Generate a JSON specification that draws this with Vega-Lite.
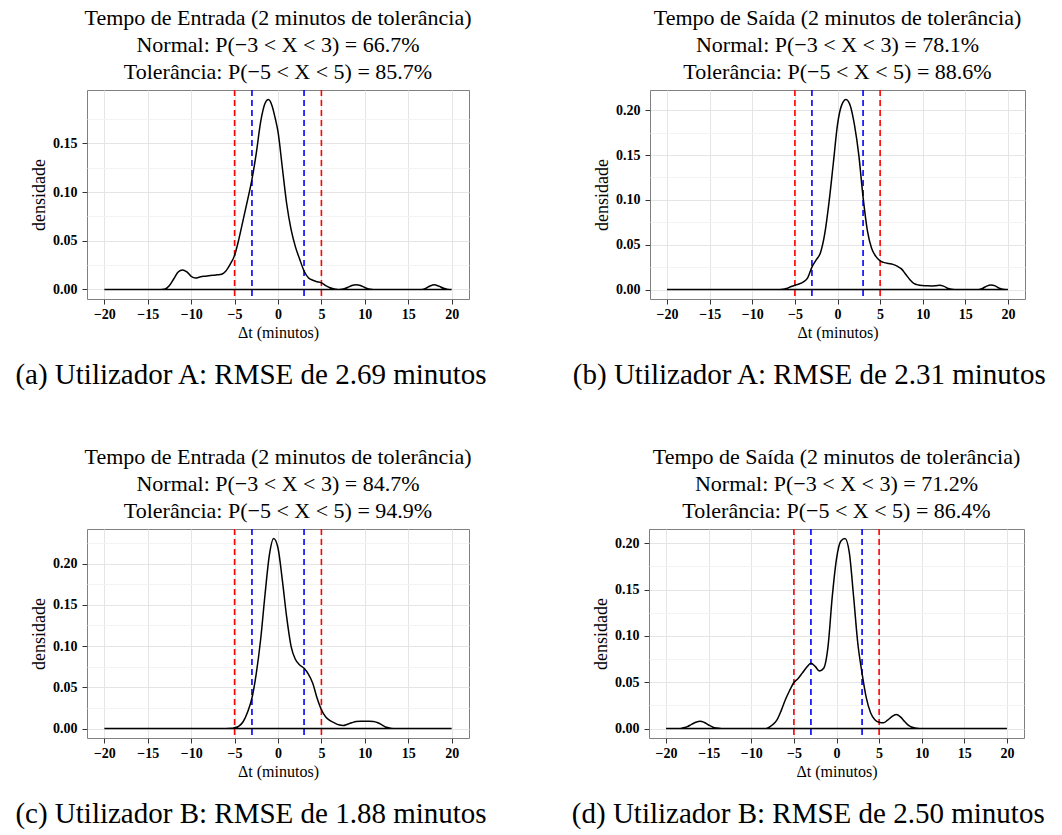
{
  "$schema": "https://vega.github.io/schema/vega-lite/v6.json",
  "padding": {"left": 14, "top": 6, "right": 5, "bottom": 5},
  "background": "white",
  "config": {
    "font": "Liberation Serif",
    "view": {"stroke": "#7F7F7F", "strokeWidth": 1},
    "title": {"font": "Liberation Serif", "fontSize": 22, "fontWeight": "normal", "lineHeight": 27, "anchor": "middle", "frame": "group", "offset": 5, "color": "black"},
    "axis": {
      "labelFont": "Liberation Serif", "labelFontSize": 14, "labelColor": "black", "labelFontWeight": "bold",
      "titleFont": "Liberation Serif", "titleFontWeight": "normal", "titleColor": "black",
      "domain": false, "tickColor": "#333333", "tickSize": 5, "labelOverlap": false, "labelBound": false, "labelFlush": false
    }
  },
  "datasets": {
    "a": [
      {"x": -20, "y": 0}, {"x": -13.5, "y": 0}, {"x": -13, "y": 0.0005}, {"x": -12.5, "y": 0.004}, {"x": -12, "y": 0.011}, {"x": -11.5, "y": 0.018}, {"x": -11, "y": 0.0201}, {"x": -10.5, "y": 0.018}, {"x": -10, "y": 0.0135}, {"x": -9.5, "y": 0.0118}, {"x": -9, "y": 0.0128}, {"x": -8.5, "y": 0.0135}, {"x": -8, "y": 0.014}, {"x": -7.5, "y": 0.0145}, {"x": -7, "y": 0.015}, {"x": -6.5, "y": 0.0157}, {"x": -6, "y": 0.019}, {"x": -5.5, "y": 0.026}, {"x": -5, "y": 0.035}, {"x": -4.5, "y": 0.052}, {"x": -4, "y": 0.072}, {"x": -3.5, "y": 0.092}, {"x": -3, "y": 0.113}, {"x": -2.5, "y": 0.14}, {"x": -2, "y": 0.172}, {"x": -1.5, "y": 0.191}, {"x": -1.1, "y": 0.195}, {"x": -0.7, "y": 0.189}, {"x": -0.3, "y": 0.175}, {"x": 0, "y": 0.162}, {"x": 0.5, "y": 0.125}, {"x": 1, "y": 0.088}, {"x": 1.5, "y": 0.062}, {"x": 2, "y": 0.044}, {"x": 2.5, "y": 0.031}, {"x": 3, "y": 0.019}, {"x": 3.5, "y": 0.012}, {"x": 4, "y": 0.0095}, {"x": 4.5, "y": 0.008}, {"x": 5, "y": 0.0068}, {"x": 5.5, "y": 0.004}, {"x": 6, "y": 0.0018}, {"x": 6.5, "y": 0.0004}, {"x": 7, "y": 0}, {"x": 7.5, "y": 0.0005}, {"x": 8, "y": 0.002}, {"x": 8.5, "y": 0.004}, {"x": 9, "y": 0.0048}, {"x": 9.5, "y": 0.004}, {"x": 10, "y": 0.002}, {"x": 10.5, "y": 0.0004}, {"x": 11, "y": 0}, {"x": 16.5, "y": 0}, {"x": 17, "y": 0.001}, {"x": 17.5, "y": 0.0035}, {"x": 18, "y": 0.0048}, {"x": 18.5, "y": 0.0035}, {"x": 19, "y": 0.0015}, {"x": 19.5, "y": 0.0003}, {"x": 20, "y": 0}
    ],
    "b": [
      {"x": -20, "y": 0}, {"x": -7, "y": 0}, {"x": -6.5, "y": 0.0003}, {"x": -6, "y": 0.0012}, {"x": -5.5, "y": 0.003}, {"x": -5, "y": 0.0048}, {"x": -4.5, "y": 0.0062}, {"x": -4, "y": 0.0085}, {"x": -3.5, "y": 0.013}, {"x": -3, "y": 0.025}, {"x": -2.5, "y": 0.033}, {"x": -2, "y": 0.041}, {"x": -1.5, "y": 0.062}, {"x": -1, "y": 0.097}, {"x": -0.5, "y": 0.14}, {"x": 0, "y": 0.184}, {"x": 0.5, "y": 0.206}, {"x": 1, "y": 0.212}, {"x": 1.5, "y": 0.205}, {"x": 2, "y": 0.183}, {"x": 2.5, "y": 0.15}, {"x": 3, "y": 0.103}, {"x": 3.5, "y": 0.066}, {"x": 4, "y": 0.046}, {"x": 4.5, "y": 0.037}, {"x": 5, "y": 0.032}, {"x": 5.5, "y": 0.03}, {"x": 6, "y": 0.029}, {"x": 6.5, "y": 0.028}, {"x": 7, "y": 0.026}, {"x": 7.5, "y": 0.023}, {"x": 8, "y": 0.017}, {"x": 8.5, "y": 0.011}, {"x": 9, "y": 0.0065}, {"x": 9.5, "y": 0.005}, {"x": 10, "y": 0.0045}, {"x": 10.5, "y": 0.0042}, {"x": 11, "y": 0.004}, {"x": 11.5, "y": 0.0043}, {"x": 12, "y": 0.0048}, {"x": 12.5, "y": 0.0035}, {"x": 13, "y": 0.0012}, {"x": 13.5, "y": 0.0002}, {"x": 14, "y": 0}, {"x": 16.5, "y": 0}, {"x": 17, "y": 0.0012}, {"x": 17.5, "y": 0.0038}, {"x": 18, "y": 0.005}, {"x": 18.5, "y": 0.004}, {"x": 19, "y": 0.0015}, {"x": 19.5, "y": 0.0003}, {"x": 20, "y": 0}
    ],
    "c": [
      {"x": -20, "y": 0}, {"x": -6, "y": 0}, {"x": -5.5, "y": 0.0002}, {"x": -5, "y": 0.001}, {"x": -4.5, "y": 0.003}, {"x": -4, "y": 0.0085}, {"x": -3.5, "y": 0.02}, {"x": -3, "y": 0.037}, {"x": -2.5, "y": 0.067}, {"x": -2, "y": 0.108}, {"x": -1.5, "y": 0.162}, {"x": -1, "y": 0.21}, {"x": -0.5, "y": 0.2305}, {"x": 0, "y": 0.219}, {"x": 0.5, "y": 0.18}, {"x": 1, "y": 0.135}, {"x": 1.5, "y": 0.1}, {"x": 2, "y": 0.084}, {"x": 2.5, "y": 0.077}, {"x": 3, "y": 0.073}, {"x": 3.5, "y": 0.066}, {"x": 4, "y": 0.055}, {"x": 4.5, "y": 0.037}, {"x": 5, "y": 0.0228}, {"x": 5.5, "y": 0.014}, {"x": 6, "y": 0.0095}, {"x": 6.5, "y": 0.0068}, {"x": 7, "y": 0.0045}, {"x": 7.5, "y": 0.0036}, {"x": 8, "y": 0.0052}, {"x": 8.5, "y": 0.007}, {"x": 9, "y": 0.0085}, {"x": 9.5, "y": 0.0088}, {"x": 10, "y": 0.0088}, {"x": 10.5, "y": 0.0088}, {"x": 11, "y": 0.0086}, {"x": 11.5, "y": 0.007}, {"x": 12, "y": 0.0042}, {"x": 12.5, "y": 0.0015}, {"x": 13, "y": 0.0003}, {"x": 13.5, "y": 0}, {"x": 20, "y": 0}
    ],
    "d": [
      {"x": -20, "y": 0}, {"x": -18.5, "y": 0.0001}, {"x": -18, "y": 0.0008}, {"x": -17.5, "y": 0.002}, {"x": -17, "y": 0.0045}, {"x": -16.5, "y": 0.0068}, {"x": -16, "y": 0.0079}, {"x": -15.5, "y": 0.0065}, {"x": -15, "y": 0.0038}, {"x": -14.5, "y": 0.0015}, {"x": -14, "y": 0.0005}, {"x": -13.5, "y": 0}, {"x": -8.5, "y": 0}, {"x": -8, "y": 0.001}, {"x": -7.5, "y": 0.004}, {"x": -7, "y": 0.009}, {"x": -6.5, "y": 0.019}, {"x": -6, "y": 0.031}, {"x": -5.5, "y": 0.041}, {"x": -5, "y": 0.0496}, {"x": -4.5, "y": 0.054}, {"x": -4, "y": 0.06}, {"x": -3.5, "y": 0.066}, {"x": -3, "y": 0.0704}, {"x": -2.5, "y": 0.067}, {"x": -2, "y": 0.062}, {"x": -1.5, "y": 0.065}, {"x": -1, "y": 0.088}, {"x": -0.5, "y": 0.142}, {"x": 0, "y": 0.183}, {"x": 0.5, "y": 0.202}, {"x": 1, "y": 0.205}, {"x": 1.5, "y": 0.19}, {"x": 2, "y": 0.143}, {"x": 2.5, "y": 0.092}, {"x": 3, "y": 0.0596}, {"x": 3.5, "y": 0.033}, {"x": 4, "y": 0.017}, {"x": 4.5, "y": 0.0095}, {"x": 5, "y": 0.0068}, {"x": 5.5, "y": 0.0062}, {"x": 6, "y": 0.009}, {"x": 6.5, "y": 0.0128}, {"x": 7, "y": 0.015}, {"x": 7.5, "y": 0.0125}, {"x": 8, "y": 0.0075}, {"x": 8.5, "y": 0.003}, {"x": 9, "y": 0.001}, {"x": 9.5, "y": 0.0002}, {"x": 10, "y": 0}, {"x": 20, "y": 0}
    ],
    "vlines": [
      {"x": -5, "c": "red"}, {"x": 5, "c": "red"}, {"x": -3, "c": "blue"}, {"x": 3, "c": "blue"}
    ]
  },
  "spacing": 55,
  "vconcat": [
    {
      "spacing": 84,
      "hconcat": [
        {
          "title": {"text": "(a) Utilizador A: RMSE de 2.69 minutos", "orient": "bottom", "anchor": "middle", "frame": "bounds", "fontSize": 29, "fontWeight": "normal", "offset": 20, "lineHeight": 30},
          "vconcat": [
            {
              "width": 382, "height": 209,
              "title": {"text": ["Tempo de Entrada (2 minutos de tolerância)", "Normal: P(−3 < X < 3) = 66.7%", "Tolerância: P(−5 < X < 5) = 85.7%"]},
              "layer": [
                {"data": {"name": "vlines"}, "mark": {"type": "rule", "strokeDash": [6, 4], "strokeWidth": 1.6}, "encoding": {"x": {"field": "x", "type": "quantitative", "scale": {"domain": [-22, 22], "nice": false, "zero": false}}, "color": {"field": "c", "type": "nominal", "scale": {"domain": ["red", "blue"], "range": ["#FF0000", "#0000FF"]}, "legend": null}}},
                {"data": {"name": "a"}, "mark": {"type": "area", "fillOpacity": 0, "stroke": "black", "strokeWidth": 1.5, "interpolate": "monotone"},
                  "encoding": {
                    "x": {"field": "x", "type": "quantitative", "scale": {"domain": [-22, 22], "nice": false, "zero": false}, "axis": {"title": "Δt (minutos)", "titleFontSize": 16, "titlePadding": 3, "labelPadding": 3, "format": "d", "values": [-20, -17.5, -15, -12.5, -10, -7.5, -5, -2.5, 0, 2.5, 5, 7.5, 10, 12.5, 15, 17.5, 20], "labelExpr": "datum.value % 5 === 0 ? datum.label : ''", "tickOpacity": {"condition": {"test": "datum.value % 5 === 0", "value": 1}, "value": 0}, "gridColor": {"condition": {"test": "datum.value % 5 === 0", "value": "#E5E5E5"}, "value": "#F3F3F3"}}},
                    "y": {"field": "y", "type": "quantitative", "scale": {"domain": [-0.0098, 0.2048], "nice": false, "zero": false}, "axis": {"title": "densidade", "titleFontSize": 18, "titlePadding": 4, "labelPadding": 5, "format": ".2f", "values": [0, 0.025, 0.05, 0.075, 0.1, 0.125, 0.15, 0.175], "labelExpr": "round(datum.value * 1000) % 50 === 0 ? datum.label : ''", "tickOpacity": {"condition": {"test": "round(datum.value * 1000) % 50 === 0", "value": 1}, "value": 0}, "gridColor": {"condition": {"test": "round(datum.value * 1000) % 50 === 0", "value": "#E5E5E5"}, "value": "#F3F3F3"}}}
                  }
                }
              ]
            }
          ]
        },
        {
          "title": {"text": "(b) Utilizador A: RMSE de 2.31 minutos", "orient": "bottom", "anchor": "middle", "frame": "bounds", "fontSize": 29, "fontWeight": "normal", "offset": 20, "lineHeight": 30},
          "vconcat": [
            {
              "width": 375, "height": 209,
              "title": {"text": ["Tempo de Saída (2 minutos de tolerância)", "Normal: P(−3 < X < 3) = 78.1%", "Tolerância: P(−5 < X < 5) = 88.6%"]},
              "layer": [
                {"data": {"name": "vlines"}, "mark": {"type": "rule", "strokeDash": [6, 4], "strokeWidth": 1.6}, "encoding": {"x": {"field": "x", "type": "quantitative", "scale": {"domain": [-22, 22], "nice": false, "zero": false}}, "color": {"field": "c", "type": "nominal", "scale": {"domain": ["red", "blue"], "range": ["#FF0000", "#0000FF"]}, "legend": null}}},
                {"data": {"name": "b"}, "mark": {"type": "area", "fillOpacity": 0, "stroke": "black", "strokeWidth": 1.5, "interpolate": "monotone"},
                  "encoding": {
                    "x": {"field": "x", "type": "quantitative", "scale": {"domain": [-22, 22], "nice": false, "zero": false}, "axis": {"title": "Δt (minutos)", "titleFontSize": 16, "titlePadding": 3, "labelPadding": 3, "format": "d", "values": [-20, -17.5, -15, -12.5, -10, -7.5, -5, -2.5, 0, 2.5, 5, 7.5, 10, 12.5, 15, 17.5, 20], "labelExpr": "datum.value % 5 === 0 ? datum.label : ''", "tickOpacity": {"condition": {"test": "datum.value % 5 === 0", "value": 1}, "value": 0}, "gridColor": {"condition": {"test": "datum.value % 5 === 0", "value": "#E5E5E5"}, "value": "#F3F3F3"}}},
                    "y": {"field": "y", "type": "quantitative", "scale": {"domain": [-0.0106, 0.2226], "nice": false, "zero": false}, "axis": {"title": "densidade", "titleFontSize": 18, "titlePadding": 4, "labelPadding": 5, "format": ".2f", "values": [0, 0.025, 0.05, 0.075, 0.1, 0.125, 0.15, 0.175, 0.2], "labelExpr": "round(datum.value * 1000) % 50 === 0 ? datum.label : ''", "tickOpacity": {"condition": {"test": "round(datum.value * 1000) % 50 === 0", "value": 1}, "value": 0}, "gridColor": {"condition": {"test": "round(datum.value * 1000) % 50 === 0", "value": "#E5E5E5"}, "value": "#F3F3F3"}}}
                  }
                }
              ]
            }
          ]
        }
      ]
    },
    {
      "spacing": 84,
      "hconcat": [
        {
          "title": {"text": "(c) Utilizador B: RMSE de 1.88 minutos", "orient": "bottom", "anchor": "middle", "frame": "bounds", "fontSize": 29, "fontWeight": "normal", "offset": 20, "lineHeight": 30},
          "vconcat": [
            {
              "width": 382, "height": 209,
              "title": {"text": ["Tempo de Entrada (2 minutos de tolerância)", "Normal: P(−3 < X < 3) = 84.7%", "Tolerância: P(−5 < X < 5) = 94.9%"]},
              "layer": [
                {"data": {"name": "vlines"}, "mark": {"type": "rule", "strokeDash": [6, 4], "strokeWidth": 1.6}, "encoding": {"x": {"field": "x", "type": "quantitative", "scale": {"domain": [-22, 22], "nice": false, "zero": false}}, "color": {"field": "c", "type": "nominal", "scale": {"domain": ["red", "blue"], "range": ["#FF0000", "#0000FF"]}, "legend": null}}},
                {"data": {"name": "c"}, "mark": {"type": "area", "fillOpacity": 0, "stroke": "black", "strokeWidth": 1.5, "interpolate": "monotone"},
                  "encoding": {
                    "x": {"field": "x", "type": "quantitative", "scale": {"domain": [-22, 22], "nice": false, "zero": false}, "axis": {"title": "Δt (minutos)", "titleFontSize": 16, "titlePadding": 3, "labelPadding": 3, "format": "d", "values": [-20, -17.5, -15, -12.5, -10, -7.5, -5, -2.5, 0, 2.5, 5, 7.5, 10, 12.5, 15, 17.5, 20], "labelExpr": "datum.value % 5 === 0 ? datum.label : ''", "tickOpacity": {"condition": {"test": "datum.value % 5 === 0", "value": 1}, "value": 0}, "gridColor": {"condition": {"test": "datum.value % 5 === 0", "value": "#E5E5E5"}, "value": "#F3F3F3"}}},
                    "y": {"field": "y", "type": "quantitative", "scale": {"domain": [-0.0115, 0.242], "nice": false, "zero": false}, "axis": {"title": "densidade", "titleFontSize": 18, "titlePadding": 4, "labelPadding": 5, "format": ".2f", "values": [0, 0.025, 0.05, 0.075, 0.1, 0.125, 0.15, 0.175, 0.2, 0.225], "labelExpr": "round(datum.value * 1000) % 50 === 0 ? datum.label : ''", "tickOpacity": {"condition": {"test": "round(datum.value * 1000) % 50 === 0", "value": 1}, "value": 0}, "gridColor": {"condition": {"test": "round(datum.value * 1000) % 50 === 0", "value": "#E5E5E5"}, "value": "#F3F3F3"}}}
                  }
                }
              ]
            }
          ]
        },
        {
          "title": {"text": "(d) Utilizador B: RMSE de 2.50 minutos", "orient": "bottom", "anchor": "middle", "frame": "bounds", "fontSize": 29, "fontWeight": "normal", "offset": 20, "lineHeight": 30},
          "vconcat": [
            {
              "width": 375, "height": 209,
              "title": {"text": ["Tempo de Saída (2 minutos de tolerância)", "Normal: P(−3 < X < 3) = 71.2%", "Tolerância: P(−5 < X < 5) = 86.4%"]},
              "layer": [
                {"data": {"name": "vlines"}, "mark": {"type": "rule", "strokeDash": [6, 4], "strokeWidth": 1.6}, "encoding": {"x": {"field": "x", "type": "quantitative", "scale": {"domain": [-22, 22], "nice": false, "zero": false}}, "color": {"field": "c", "type": "nominal", "scale": {"domain": ["red", "blue"], "range": ["#FF0000", "#0000FF"]}, "legend": null}}},
                {"data": {"name": "d"}, "mark": {"type": "area", "fillOpacity": 0, "stroke": "black", "strokeWidth": 1.5, "interpolate": "monotone"},
                  "encoding": {
                    "x": {"field": "x", "type": "quantitative", "scale": {"domain": [-22, 22], "nice": false, "zero": false}, "axis": {"title": "Δt (minutos)", "titleFontSize": 16, "titlePadding": 3, "labelPadding": 3, "format": "d", "values": [-20, -17.5, -15, -12.5, -10, -7.5, -5, -2.5, 0, 2.5, 5, 7.5, 10, 12.5, 15, 17.5, 20], "labelExpr": "datum.value % 5 === 0 ? datum.label : ''", "tickOpacity": {"condition": {"test": "datum.value % 5 === 0", "value": 1}, "value": 0}, "gridColor": {"condition": {"test": "datum.value % 5 === 0", "value": "#E5E5E5"}, "value": "#F3F3F3"}}},
                    "y": {"field": "y", "type": "quantitative", "scale": {"domain": [-0.01025, 0.2153], "nice": false, "zero": false}, "axis": {"title": "densidade", "titleFontSize": 18, "titlePadding": 4, "labelPadding": 5, "format": ".2f", "values": [0, 0.025, 0.05, 0.075, 0.1, 0.125, 0.15, 0.175, 0.2], "labelExpr": "round(datum.value * 1000) % 50 === 0 ? datum.label : ''", "tickOpacity": {"condition": {"test": "round(datum.value * 1000) % 50 === 0", "value": 1}, "value": 0}, "gridColor": {"condition": {"test": "round(datum.value * 1000) % 50 === 0", "value": "#E5E5E5"}, "value": "#F3F3F3"}}}
                  }
                }
              ]
            }
          ]
        }
      ]
    }
  ]
}
